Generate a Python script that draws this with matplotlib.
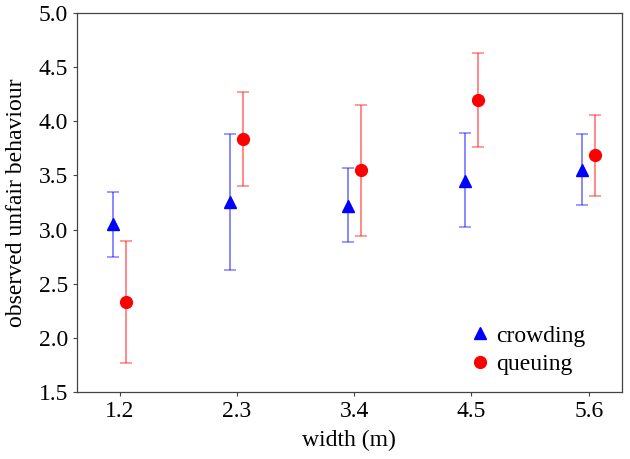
import numpy as np
import matplotlib
import matplotlib.pyplot as plt

matplotlib.use('Agg')

widths = [1.2, 2.3, 3.4, 4.5, 5.6]
tick_labels = ['1.2', '2.3', '3.4', '4.5', '5.6']

crowding_mean = [3.05, 3.25, 3.22, 3.45, 3.55]
crowding_low = [2.75, 2.63, 2.88, 3.02, 3.23]
crowding_high = [3.35, 3.88, 3.57, 3.89, 3.88]

queuing_mean = [2.33, 3.84, 3.55, 4.20, 3.69]
queuing_low = [1.77, 3.40, 2.94, 3.76, 3.31]
queuing_high = [2.89, 4.27, 4.15, 4.63, 4.06]

plt.rcParams['font.family'] = ['Liberation Serif', 'DejaVu Serif']
plt.rcParams['font.size'] = 17

fig = plt.figure(figsize=(6.3, 4.59), dpi=100)
ax = fig.add_axes([0.122, 0.146, 0.865, 0.826])

x = np.array(widths)
shift = 0.06

c_mean = np.array(crowding_mean)
c_err = [c_mean - np.array(crowding_low), np.array(crowding_high) - c_mean]
q_mean = np.array(queuing_mean)
q_err = [q_mean - np.array(queuing_low), np.array(queuing_high) - q_mean]

# error bars drawn faded, markers on top
ax.errorbar(x - shift, c_mean, yerr=c_err, fmt='none', ecolor='blue', alpha=0.5,
            elinewidth=1.3, capsize=4.5, capthick=1.1)
ax.errorbar(x + shift, q_mean, yerr=q_err, fmt='none', ecolor='red', alpha=0.5,
            elinewidth=1.3, capsize=4.5, capthick=1.1)
ax.plot(x - shift, c_mean, '^', color='blue', markersize=8.5, label='crowding')
ax.plot(x + shift, q_mean, 'o', color='red', markersize=8.5, label='queuing')

ax.set_xlim(0.8, 5.91)
ax.set_ylim(1.5, 5.0)
ax.set_xticks(widths)
ax.set_xticklabels(tick_labels)
ax.set_yticks(np.arange(1.5, 5.01, 0.5))
ax.set_yticklabels([f'{v:.1f}' for v in np.arange(1.5, 5.01, 0.5)])
ax.set_xlabel('width (m)', labelpad=6)
ax.set_ylabel('observed unfair behaviour', labelpad=8)

for s in ax.spines.values():
    s.set_color('#444444')
    s.set_linewidth(0.9)
ax.tick_params(colors='black', color='#444444', length=3, width=0.8)

ax.legend(loc='center left', bbox_to_anchor=(0.68, 0.11), frameon=False,
          handletextpad=0.15, labelspacing=0.3, handlelength=1.0, markerscale=1.0)

plt.savefig('out.png', dpi=100)
